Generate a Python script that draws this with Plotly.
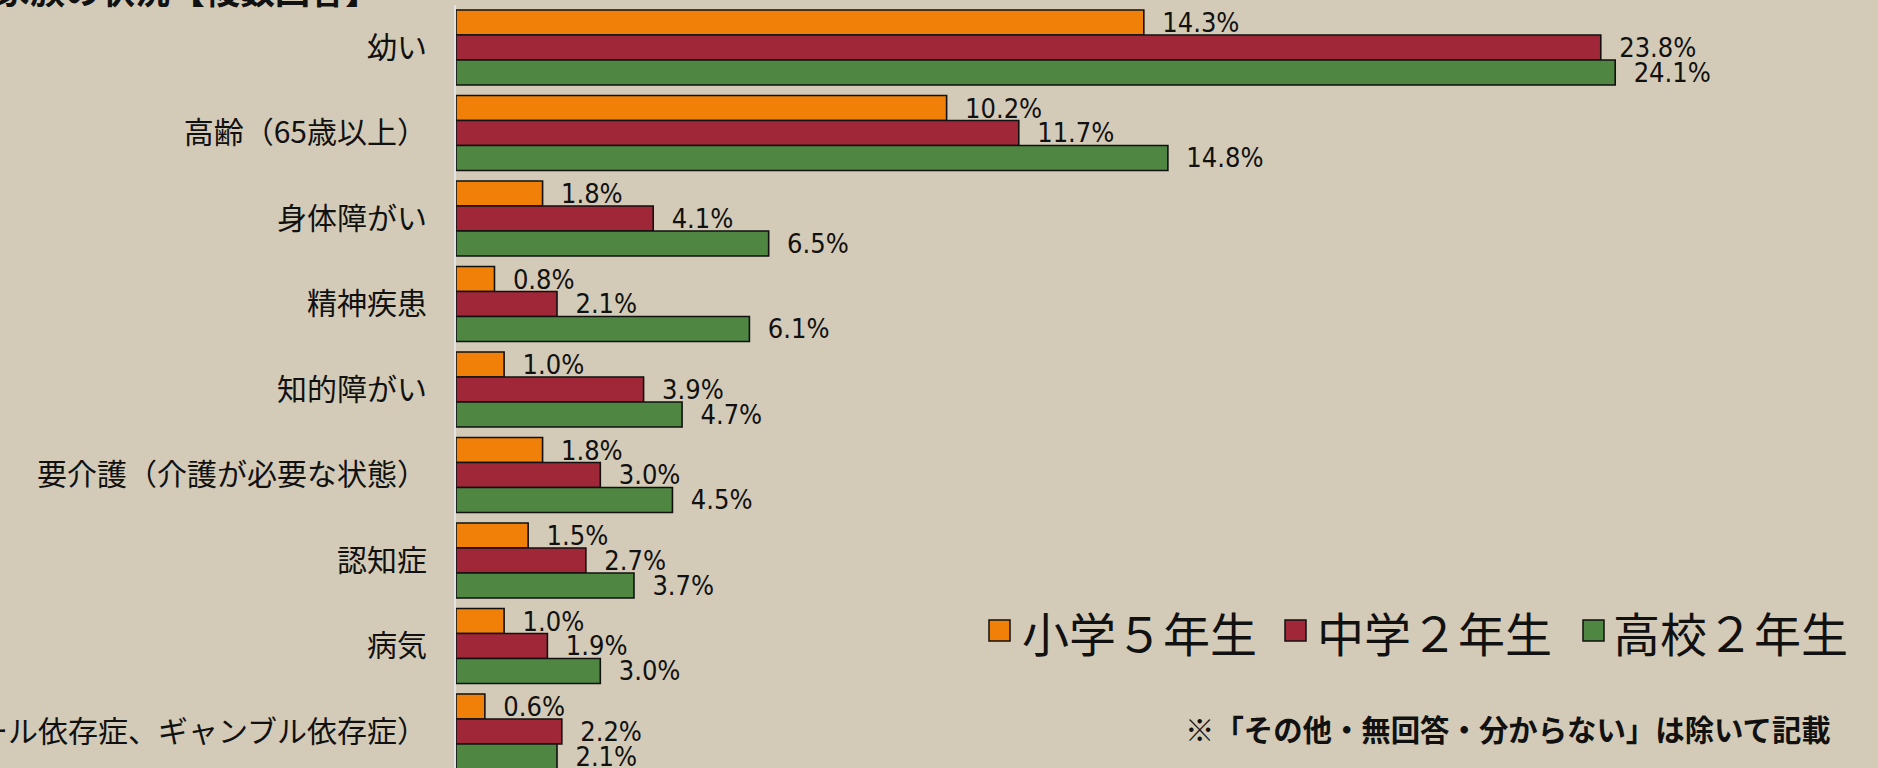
import plotly.graph_objects as go

categories = [
    "幼い",
    "高齢（65歳以上）",
    "身体障がい",
    "精神疾患",
    "知的障がい",
    "要介護（介護が必要な状態）",
    "認知症",
    "病気",
    "依存症（アルコール依存症、ギャンブル依存症）",
]
series_names = ["小学５年生", "中学２年生", "高校２年生"]
elem5 = [14.3, 10.2, 1.8, 0.8, 1.0, 1.8, 1.5, 1.0, 0.6]
junior2 = [23.8, 11.7, 4.1, 2.1, 3.9, 3.0, 2.7, 1.9, 2.2]
high2 = [24.1, 14.8, 6.5, 6.1, 4.7, 4.5, 3.7, 3.0, 2.1]
colors = ["#F08008", "#A02737", "#4E8642"]
title_text = "家族の状況【複数回答】"
note_text = "※「その他・無回答・分からない」は除いて記載"

W, H = 1878, 768
L, T = 456, 5
PW, PH = W - L, H - T
BG = "#D3CBB7"

def px_x(p):
    return (p - L) / PW

def px_y(p):
    return (H - p) / PH

fig = go.Figure()
for name, vals, col in zip(series_names, [elem5, junior2, high2], colors):
    fig.add_trace(go.Bar(
        y=categories, x=vals, name=name, orientation="h",
        marker=dict(color=col, line=dict(color="#111111", width=1.6)),
        text=vals, texttemplate="  %{x:.1f}%", textposition="outside",
        textfont=dict(family="DejaVu Sans Condensed, Roboto, sans-serif", size=27, color="#111111"),
        constraintext="none", cliponaxis=False, showlegend=False,
    ))

annotations = [
    dict(text=title_text, xref="paper", yref="paper", x=px_x(382), y=px_y(16),
         xanchor="right", yanchor="bottom", showarrow=False,
         font=dict(family="Noto Sans CJK JP", size=35, color="#111111", weight="bold")),
    dict(text=note_text, xref="paper", yref="paper", x=px_x(1183), y=px_y(728),
         xanchor="left", yanchor="middle", showarrow=False,
         font=dict(family="Noto Sans CJK JP", size=29.4, color="#111111", weight="bold")),
]
shapes = []
sq_left = [989, 1285, 1583]
txt_left = [1020, 1315, 1611]
for name, col, sx, tx in zip(series_names, colors, sq_left, txt_left):
    shapes.append(dict(type="rect", xref="paper", yref="paper",
                       x0=px_x(sx), x1=px_x(sx + 21), y0=px_y(641), y1=px_y(620),
                       fillcolor=col, line=dict(color="#111111", width=1.5)))
    annotations.append(dict(text=name, xref="paper", yref="paper", x=px_x(tx), y=px_y(631),
                            xanchor="left", yanchor="middle", showarrow=False,
                            font=dict(family="Noto Sans CJK JP", size=47, color="#111111")))

fig.update_layout(
    width=W, height=H,
    margin=dict(l=L, r=0, t=T, b=0, autoexpand=False),
    paper_bgcolor=BG, plot_bgcolor=BG,
    barmode="group", bargap=0.123, bargroupgap=0,
    showlegend=False,
    xaxis=dict(range=[0, PW / 48.1], visible=False, fixedrange=True),
    yaxis=dict(type="category", range=[-0.497 + PH / 85.5, -0.497],
               showline=True, linecolor="#E2E2E2", linewidth=2,
               showgrid=False, zeroline=False, ticks="", automargin=False,
               ticklabelstandoff=21,
               tickfont=dict(family="Noto Sans CJK JP", size=30, color="#111111")),
    annotations=annotations, shapes=shapes,
    font=dict(family="Noto Sans CJK JP"),
)

fig.write_html("out.html", config={"displayModeBar": False},
               post_script="document.body.style.margin='0px';")
